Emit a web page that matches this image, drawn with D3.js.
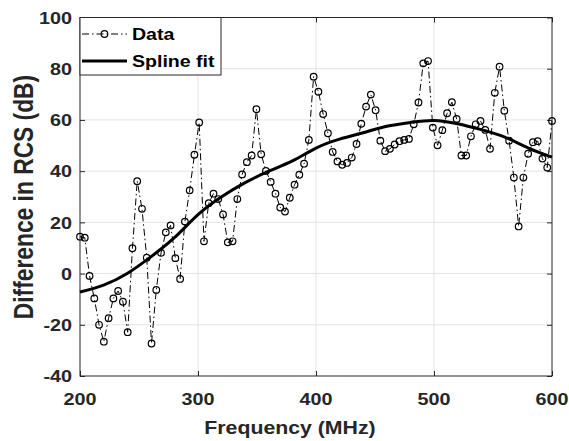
<!DOCTYPE html>
<html>
<head>
<meta charset="utf-8">
<script src="https://cdn.jsdelivr.net/npm/d3@7"></script>
<style>
body { margin: 0; background: #fff; }
text { font-family: "Liberation Sans", Arial, Helvetica, sans-serif; font-weight: bold; }
</style>
</head>
<body>
<svg id="chart" width="569" height="441"></svg>
<script>
// frequency sweep: 100 samples from 200 to 600 MHz
var freqStart = 200, freqStop = 600, nSamples = 100;

// measured difference in RCS (dB), one value per sample
var rcsDiff = [
	14.4, 14.0, -0.9, -9.7, -20.0, -26.6, -17.4, -9.7, -6.8, -11.0,
	-22.9, 9.9, 36.1, 25.3, 6.2, -27.3, -6.4, 8.1, 16.1, 18.8,
	6.0, -2.1, 20.3, 32.5, 46.4, 59.0, 12.6, 27.5, 31.2, 29.1,
	23.1, 12.2, 12.6, 29.1, 38.7, 43.5, 46.1, 64.2, 46.6, 40.1,
	35.8, 31.2, 25.8, 24.2, 29.6, 34.7, 38.6, 42.9, 52.2, 76.9,
	71.0, 62.3, 54.8, 47.5, 43.8, 42.5, 43.2, 45.3, 50.6, 58.5,
	65.2, 69.9, 63.8, 51.9, 47.8, 48.7, 50.4, 51.7, 52.2, 52.6,
	58.3, 66.8, 82.1, 83.0, 57.0, 50.1, 56.0, 62.6, 66.9, 60.4,
	46.1, 46.1, 53.6, 58.3, 59.6, 56.1, 48.7, 70.6, 80.8, 63.6,
	51.9, 37.5, 18.4, 37.5, 46.8, 51.3, 51.7, 44.9, 41.4, 59.6
];

// spline fit
var splineFreq = [200, 220, 240, 260, 280, 300, 320, 340, 360, 380, 400, 420, 440, 460, 480, 500, 520, 540, 560, 580, 600];
var splineVals = [-7.2, -4.5, 0, 6.5, 14, 23, 30, 35.5, 40, 44, 49, 52.5, 55, 57.5, 59, 59.8, 58.5, 56.2, 53.3, 49, 45.5];

var xTicks = [200, 300, 400, 500, 600];
var yTicks = [-40, -20, 0, 20, 40, 60, 80, 100];
var legendLabels = ["Data", "Spline fit"];

var freqs = d3.range(nSamples).map(function(i) {
	return freqStart + i * (freqStop - freqStart) / (nSamples - 1);
});
var points = freqs.map(function(f, i) { return { f: f, v: rcsDiff[i] }; });
var spline = splineFreq.map(function(f, i) { return { f: f, v: splineVals[i] }; });

var plotLeft = 80, plotRight = 552, plotTop = 17.5, plotBottom = 376;
var axisColor = "#262626";
var sx = 1.15; // glyphs in the picture are a bit wider than tall

var x = d3.scaleLinear().domain([200, 600]).range([plotLeft, plotRight]);
var y = d3.scaleLinear().domain([-40, 100]).range([plotBottom, plotTop]);

var svg = d3.select("#chart");

// grid
svg.append("g").selectAll("line")
	.data(xTicks.slice(1, -1)).enter().append("line")
	.attr("x1", function(d) { return x(d); }).attr("x2", function(d) { return x(d); })
	.attr("y1", plotTop).attr("y2", plotBottom)
	.attr("stroke", "#e3e3e3").attr("stroke-width", 1);
svg.append("g").selectAll("line")
	.data(yTicks.slice(1, -1)).enter().append("line")
	.attr("y1", function(d) { return y(d); }).attr("y2", function(d) { return y(d); })
	.attr("x1", plotLeft).attr("x2", plotRight)
	.attr("stroke", "#e3e3e3").attr("stroke-width", 1);

// inward ticks on all four sides
var tickLen = 5;
var axB = d3.axisBottom(x).tickValues(xTicks).tickSizeInner(-tickLen).tickSizeOuter(0).tickFormat("");
var axT = d3.axisTop(x).tickValues(xTicks).tickSizeInner(-tickLen).tickSizeOuter(0).tickFormat("");
var axL = d3.axisLeft(y).tickValues(yTicks).tickSizeInner(-tickLen).tickSizeOuter(0).tickFormat("");
var axR = d3.axisRight(y).tickValues(yTicks).tickSizeInner(-tickLen).tickSizeOuter(0).tickFormat("");
[[axB, "translate(0," + plotBottom + ")"], [axT, "translate(0," + plotTop + ")"],
 [axL, "translate(" + plotLeft + ",0)"], [axR, "translate(" + plotRight + ",0)"]].forEach(function(a) {
	var g = svg.append("g").attr("transform", a[1]).call(a[0]);
	g.select(".domain").remove();
	g.selectAll("line").attr("stroke", axisColor);
});

svg.append("rect")
	.attr("x", plotLeft).attr("y", plotTop)
	.attr("width", plotRight - plotLeft).attr("height", plotBottom - plotTop)
	.attr("fill", "none").attr("stroke", axisColor).attr("stroke-width", 1);

function label(str, px, py, size, anchor, stretch, rot) {
	var t = "translate(" + px + "," + py + ") scale(" + stretch + ",1)" + (rot ? " rotate(" + rot + ")" : "");
	return svg.append("text")
		.attr("transform", t)
		.attr("text-anchor", anchor)
		.attr("font-size", size)
		.attr("fill", axisColor)
		.text(str);
}

// tick labels
xTicks.forEach(function(d) { label(d, x(d), 404.5, 17.2, "middle", sx); });
yTicks.forEach(function(d) { label(d, 72, y(d) + 6.2, 17.2, "end", sx); });

// axis titles
label("Frequency (MHz)", 290, 433.5, 19, "middle", 1.12);
label("Difference in RCS (dB)", 33, 197, 22.8, "middle", 1.18, -90);

// spline fit
var splineLine = d3.line()
	.x(function(d) { return x(d.f); })
	.y(function(d) { return y(d.v); })
	.curve(d3.curveNatural);
svg.append("path")
	.datum(spline)
	.attr("d", splineLine)
	.attr("fill", "none").attr("stroke", "#000").attr("stroke-width", 3);

// data
var dataLine = d3.line()
	.x(function(d) { return x(d.f); })
	.y(function(d) { return y(d.v); });
svg.append("path")
	.datum(points)
	.attr("d", dataLine)
	.attr("fill", "none").attr("stroke", "#000").attr("stroke-width", 1)
	.attr("stroke-dasharray", "7,3,1.5,3");
svg.append("g").selectAll("circle")
	.data(points).enter().append("circle")
	.attr("cx", function(d) { return x(d.f); })
	.attr("cy", function(d) { return y(d.v); })
	.attr("r", 3.3)
	.attr("fill", "none").attr("stroke", "#000").attr("stroke-width", 1.2);

// legend
var lg = svg.append("g");
lg.append("rect")
	.attr("x", 80).attr("y", plotTop).attr("width", 141).attr("height", 57.5)
	.attr("fill", "#fff").attr("stroke", axisColor).attr("stroke-width", 1);
lg.append("line")
	.attr("x1", 82).attr("x2", 127).attr("y1", 34).attr("y2", 34)
	.attr("stroke", "#000").attr("stroke-width", 1).attr("stroke-dasharray", "7,3,1.5,3");
lg.append("circle")
	.attr("cx", 104.5).attr("cy", 34).attr("r", 3.3)
	.attr("fill", "none").attr("stroke", "#000").attr("stroke-width", 1.2);
lg.append("line")
	.attr("x1", 82).attr("x2", 127).attr("y1", 61).attr("y2", 61)
	.attr("stroke", "#000").attr("stroke-width", 3);
legendLabels.forEach(function(s, i) {
	label(s, 132, [39.8, 67][i], 16.3, "start", 1.2).attr("fill", "#000");
});
</script>
</body>
</html>
